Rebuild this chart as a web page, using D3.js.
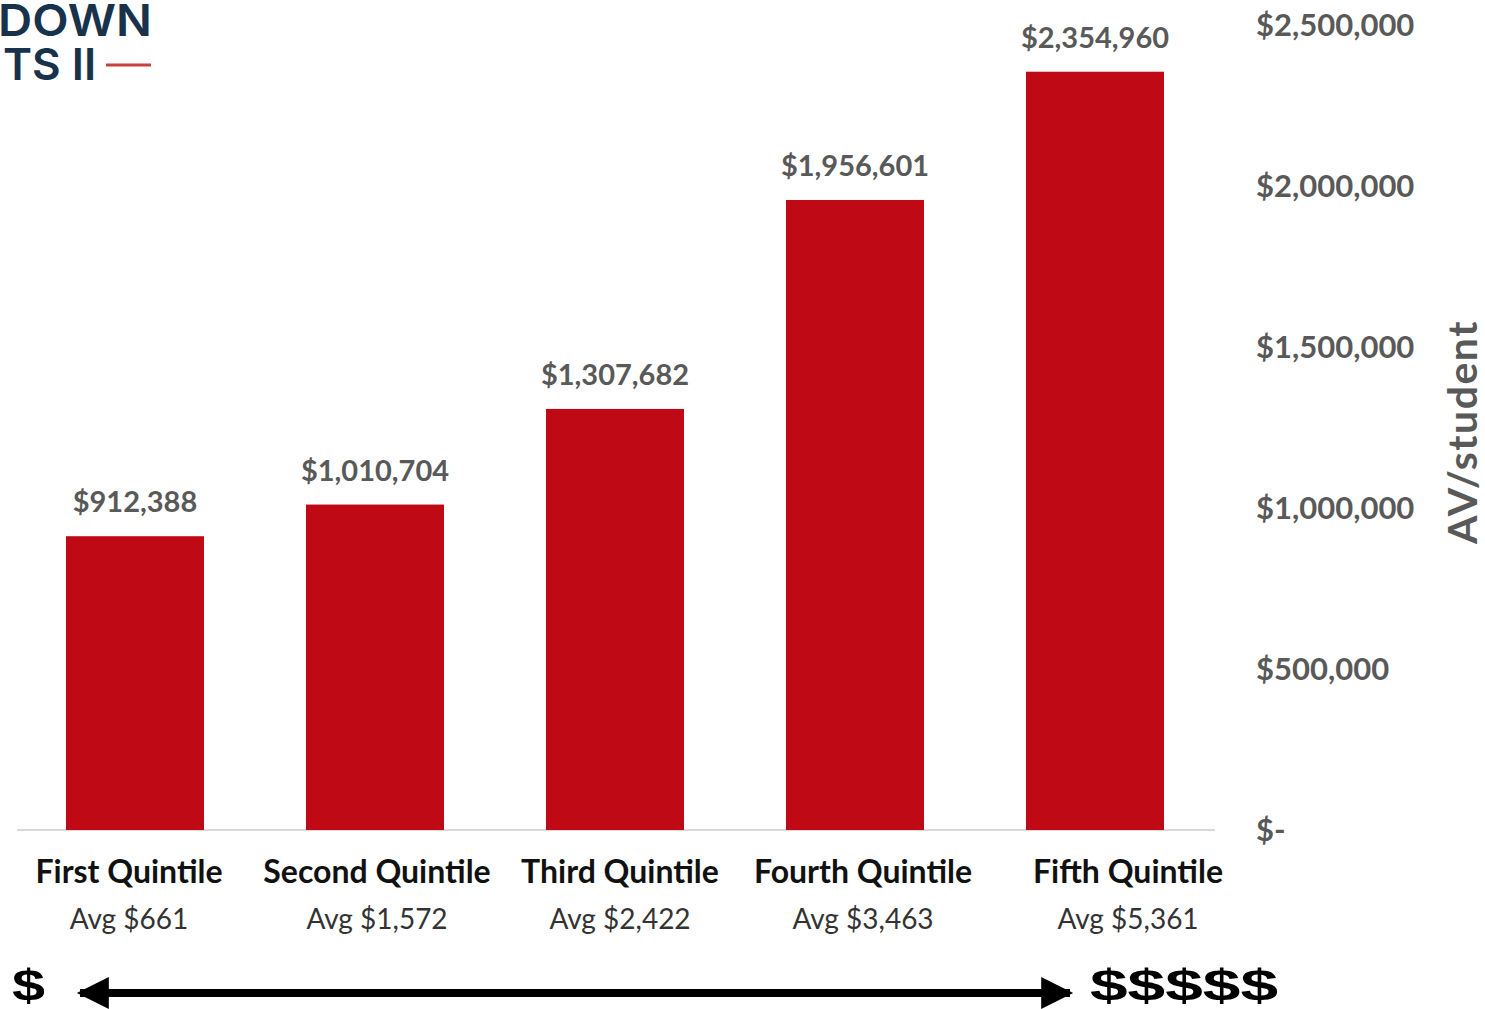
<!DOCTYPE html>
<html><head><meta charset="utf-8">
<script src="https://cdn.jsdelivr.net/npm/d3@7"></script>
<style>body{margin:0;background:#fff;}svg{display:block;}</style>
</head><body>
<script>
const categories = ["First Quintile","Second Quintile","Third Quintile","Fourth Quintile","Fifth Quintile"];
const subLabels = ["Avg $661","Avg $1,572","Avg $2,422","Avg $3,463","Avg $5,361"];
const values = [912388, 1010704, 1307682, 1956601, 2354960];
const yTicks = [0, 500000, 1000000, 1500000, 2000000, 2500000];
const yTickLabels = ["$-","$500,000","$1,000,000","$1,500,000","$2,000,000","$2,500,000"];

const W = 1485, H = 1009;
const svg = d3.select("body").append("svg").attr("width", W).attr("height", H);
const font = "Lato, 'Open Sans', sans-serif";

const x = d3.scaleBand().domain(categories).range([15, 1215]).paddingInner(0.425).paddingOuter(0.2125);
const y = d3.scaleLinear().domain([0, 2500000]).range([830, 25]);
// horizontal nudge of the category label blocks relative to bar centres (layout only)
const labelNudge = [-6, 2, 5, 8, 33];

// baseline
svg.append("line").attr("x1", 17).attr("x2", 1215).attr("y1", y(0)).attr("y2", y(0))
  .attr("stroke", "#d9d9d9").attr("stroke-width", 2);

// bars
svg.selectAll("rect.bar").data(values).join("rect").attr("class","bar")
  .attr("x", (d,i) => x(categories[i])).attr("width", x.bandwidth())
  .attr("y", d => y(d)).attr("height", d => y(0) - y(d)).attr("fill", "#bf0914");

// value labels
const fmt = d3.format("$,");
svg.selectAll("text.val").data(values).join("text").attr("class","val")
  .attr("x", (d,i) => x(categories[i]) + x.bandwidth()/2).attr("y", d => y(d) - 24)
  .attr("text-anchor","middle").attr("font-family", font).attr("font-weight", 700)
  .attr("font-size", 29).attr("fill", "#595959").text(d => fmt(d));

// category labels
svg.selectAll("text.cat").data(categories).join("text").attr("class","cat")
  .attr("x", (d,i) => x(d) + x.bandwidth()/2 + labelNudge[i]).attr("y", 883)
  .attr("text-anchor","middle").attr("font-family", font).attr("font-weight", 700)
  .attr("font-size", 32).attr("fill", "#111").text(d => d);
svg.selectAll("text.sub").data(subLabels).join("text").attr("class","sub")
  .attr("x", (d,i) => x(categories[i]) + x.bandwidth()/2 + labelNudge[i]).attr("y", 929)
  .attr("text-anchor","middle").attr("font-family", font).attr("font-weight", 400)
  .attr("font-size", 28).attr("fill", "#333").text(d => d);

// right axis
const axis = d3.axisRight(y).tickValues(yTicks).tickSize(0).tickPadding(0)
  .tickFormat((d,i) => yTickLabels[i]);
const ag = svg.append("g").attr("transform", "translate(1256,0)").call(axis);
ag.select(".domain").remove();
ag.selectAll("text").attr("font-family", font).attr("font-weight", 700).attr("font-size", 31)
  .attr("fill", "#595959").attr("dy", "0.35em");

// axis title
svg.append("text").attr("transform", "translate(1477,432) rotate(-90)")
  .attr("text-anchor","middle").attr("font-family", font).attr("font-weight", 700)
  .attr("font-size", 41).attr("letter-spacing", 1.5).attr("fill", "#595959").text("AV/student");

// bottom arrow
svg.append("defs").html(`
  <marker id="ah" viewBox="0 0 10 10" refX="9" refY="5" markerWidth="5" markerHeight="4" orient="auto-start-reverse" markerUnits="strokeWidth">
    <path d="M0,0 L10,5 L0,10 z" fill="#000"/></marker>`);
svg.append("line").attr("x1", 80).attr("x2", 1070).attr("y1", 993).attr("y2", 993)
  .attr("stroke", "#000").attr("stroke-width", 8)
  .attr("marker-start", "url(#ah)").attr("marker-end", "url(#ah)");
svg.append("text").attr("x", 12).attr("y", 1001).attr("font-family", "'Liberation Sans', Arial, sans-serif").attr("font-weight", 700)
  .attr("font-size", 44).attr("fill", "#000").attr("textLength", 33).attr("lengthAdjust", "spacingAndGlyphs").text("$");
svg.append("text").attr("x", 1090).attr("y", 1001).attr("font-family", "'Liberation Sans', Arial, sans-serif").attr("font-weight", 700)
  .attr("font-size", 44).attr("fill", "#000").attr("textLength", 188).attr("lengthAdjust", "spacingAndGlyphs").text("$$$$$");

// logo fragment
const logoFont = "Inter, 'Noto Sans', sans-serif";
svg.append("text").attr("x", -2).attr("y", 36).attr("font-family", logoFont).attr("font-weight", 600)
  .attr("font-size", 44).attr("textLength", 154).attr("lengthAdjust", "spacingAndGlyphs")
  .attr("fill", "#17324a").text("DOWN");
svg.append("text").attr("x", 3).attr("y", 80).attr("font-family", logoFont).attr("font-weight", 600)
  .attr("font-size", 44).attr("fill", "#17324a").text("TS II");
svg.append("line").attr("x1", 106).attr("x2", 151).attr("y1", 65).attr("y2", 65)
  .attr("stroke", "#c8413a").attr("stroke-width", 3);
</script>
</body></html>
